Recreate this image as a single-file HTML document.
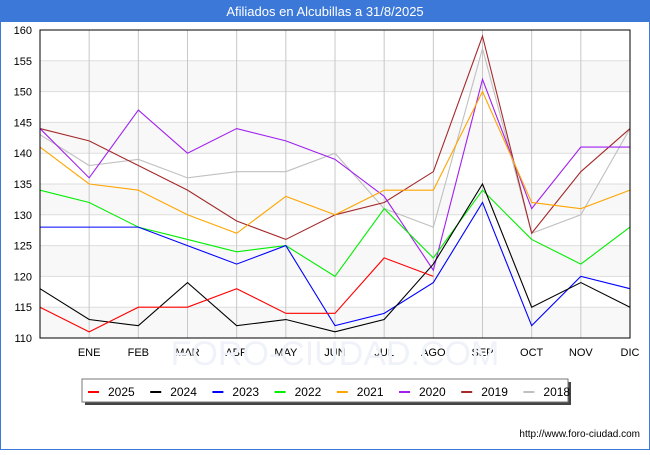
<!DOCTYPE html>
<html><head><meta charset="utf-8"><style>
body{margin:0;width:650px;height:450px;overflow:hidden;font-family:"Liberation Sans",sans-serif;background:#fff}
</style></head><body>
<svg width="650" height="450" xmlns="http://www.w3.org/2000/svg" id="chart">
<rect x="0.5" y="0.5" width="649" height="449" fill="#fff" stroke="#3c78d8"/>
<rect x="0" y="0" width="650" height="22" fill="#3c78d8"/>
<text x="325" y="16" text-anchor="middle" font-size="13" fill="#fff">Afiliados en Alcubillas a 31/8/2025</text>
<g id="grid"></g>
<text x="335" y="365" text-anchor="middle" font-size="34" fill="#f0f2fa">FORO-CIUDAD.COM</text>
<g id="series"></g>
<rect x="40" y="30" width="590" height="308" fill="none" stroke="#000"/>
<g id="legend"></g>
<text x="640" y="437" text-anchor="end" font-size="10" fill="#000">http://www.foro-ciudad.com</text>
</svg>
<script>
const months = ["", "ENE","FEB","MAR","ABR","MAY","JUN","JUL","AGO","SEP","OCT","NOV","DIC"];
const yTicks = [110,115,120,125,130,135,140,145,150,155,160];
const years = ["2025","2024","2023","2022","2021","2020","2019","2018"];
const colors = ["#ff0000","#000000","#0000ff","#00ee00","#ffa500","#a020f0","#a52a2a","#c0c0c0"];
const s2025 = [115,111,115,115,118,114,114,123,120];
const s2024 = [118,113,112,119,112,113,111,113,122,135,115,119,115];
const s2023 = [128,128,128,125,122,125,112,114,119,132,112,120,118];
const s2022 = [134,132,128,126,124,125,120,131,123,134,126,122,128];
const s2021 = [141,135,134,130,127,133,130,134,134,150,132,131,134];
const s2020 = [144,136,147,140,144,142,139,133,121,152,131,141,141];
const s2019 = [144,142,138,134,129,126,130,132,137,159,127,137,144];
const s2018 = [143,138,139,136,137,137,140,131,128,157,127,130,144];
const allSeries = [s2025,s2024,s2023,s2022,s2021,s2020,s2019,s2018];
const NS="http://www.w3.org/2000/svg";
const x0=40,x1=630,y0=338,y1=30,vmin=110,vmax=160;
const xs=i=>x0+i*(x1-x0)/12;
const ys=v=>y0-(v-vmin)*(y0-y1)/(vmax-vmin);
function mk(t,a,p){const e=document.createElementNS(NS,t);for(const k in a)e.setAttribute(k,a[k]);p.appendChild(e);return e;}
const grid=document.getElementById('grid');
for(let i=0;i<yTicks.length-1;i++){
  if(i%2===0){const r=mk('rect',{x:x0,y:ys(yTicks[i+1]),width:x1-x0,height:ys(yTicks[i])-ys(yTicks[i+1]),fill:'#f8f8f8'},grid);
  
  }
}
yTicks.forEach(v=>{
  const l=mk('line',{x1:x0,x2:x1,y1:ys(v),y2:ys(v),stroke:'#dddddd'},grid);
  
  
  const t=mk('text',{x:x0-8,y:ys(v)+4,'text-anchor':'end','font-size':11,fill:'#000'},grid);
  t.textContent=v;
  
  
});
months.forEach((m,i)=>{
  if(i===0)return;
  const l=mk('line',{x1:xs(i),x2:xs(i),y1:y1,y2:y0,stroke:'#c8c8c8'},grid);
  
  
  const t=mk('text',{x:xs(i),y:356,'text-anchor':'middle','font-size':11,fill:'#000'},grid);
  t.textContent=m;
  
  
});
const sg=document.getElementById('series');
for(let k=allSeries.length-1;k>=0;k--){
  const pts=allSeries[k].map((v,i)=>xs(i)+','+ys(v)).join(' ');
  const p=mk('polyline',{points:pts,fill:'none',stroke:colors[k],'stroke-width':1.1},sg);
  
  
}
const lg=document.getElementById('legend');
const sh=mk('rect',{x:85,y:382,width:486,height:23,fill:'#444'},lg);


const box=mk('rect',{x:82,y:379,width:486,height:23,fill:'#fff',stroke:'#777'},lg);


years.forEach((y,i)=>{
  const bx=88+i*62.2;
  const g=mk('g',{},lg);
  
  
  mk('rect',{x:bx,y:391,width:11,height:2,fill:colors[i]},g);
  const t=mk('text',{x:bx+20,y:396,'font-size':12,fill:'#000'},g);
  t.textContent=y;
});
</script>
</body></html>
